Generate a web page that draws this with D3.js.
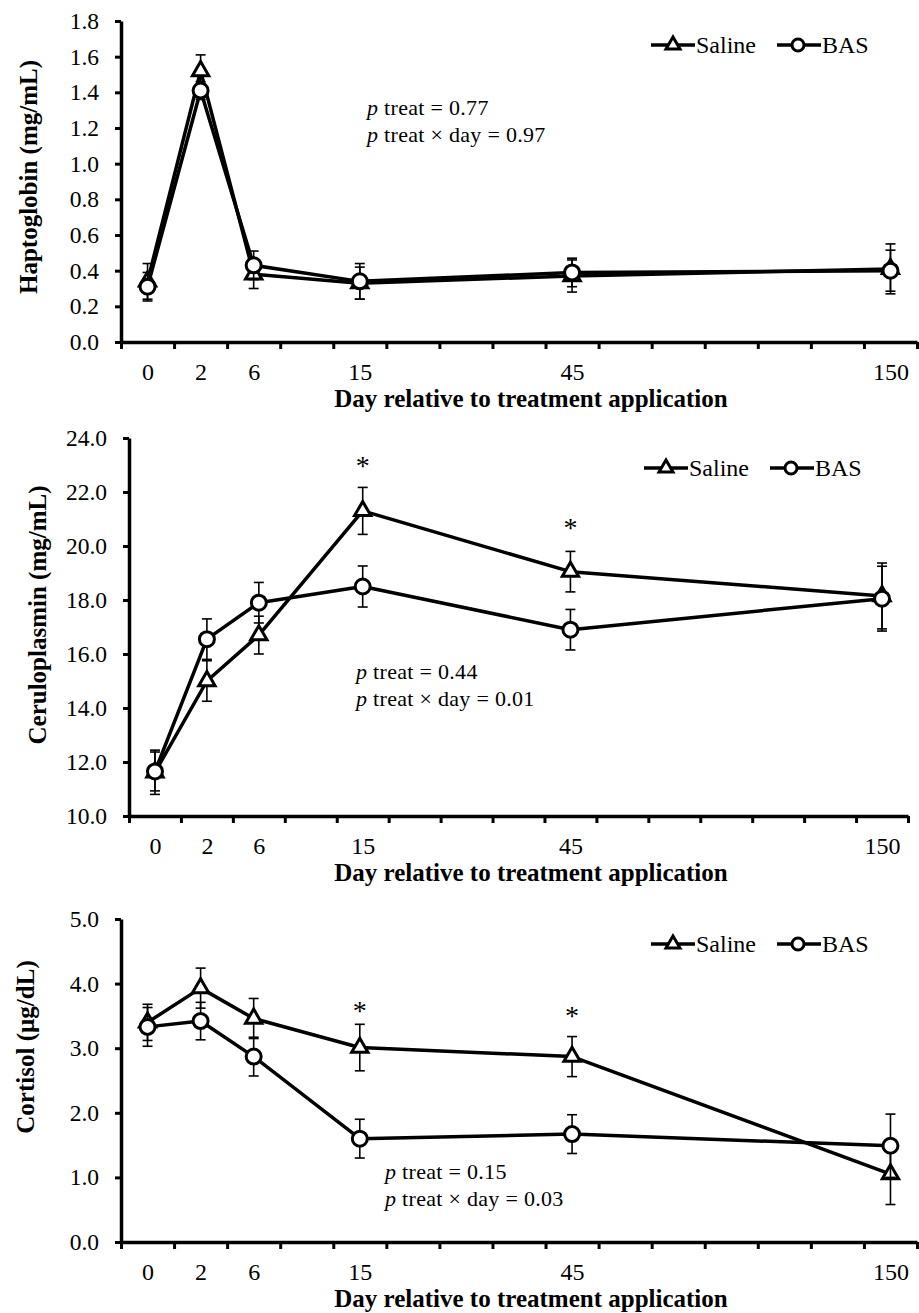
<!DOCTYPE html>
<html>
<head>
<meta charset="utf-8">
<script src="https://cdn.jsdelivr.net/npm/d3@7"></script>
<style>
  html, body { margin: 0; padding: 0; background: #fff; }
  svg { display: block; }
</style>
</head>
<body>
<svg id="chart" width="919" height="1313"></svg>
<script>
// ---------- DATA ----------
const days = ["0", "2", "6", "15", "45", "150"];
// category slot (centre) of each sampling day on the 15-slot x axis
const daySlots = [0.5, 1.5, 2.5, 4.5, 8.5, 14.5];
const slotTicks = d3.range(0, 16);
const seriesNames = ["Saline", "BAS"];

// Haptoglobin (mg/mL)
const hpSaline    = [0.34, 1.52, 0.38, 0.33, 0.37, 0.41];
const hpSalineErr = [0.10, 0.09, 0.08, 0.09, 0.09, 0.14];
const hpBAS       = [0.31, 1.41, 0.43, 0.34, 0.39, 0.40];
const hpBASErr    = [0.08, 0.05, 0.08, 0.10, 0.08, 0.115];
const hpTicks     = [0, 0.2, 0.4, 0.6, 0.8, 1.0, 1.2, 1.4, 1.6, 1.8];
const hpStats     = ["treat = 0.77", "treat \u00D7 day = 0.97"];
const hpStars     = [];

// Ceruloplasmin (mg/mL)
const cpSaline    = [11.62, 15.0, 16.7, 21.3, 19.05, 18.15];
const cpSalineErr = [0.82, 0.75, 0.70, 0.87, 0.75, 1.22];
const cpBAS       = [11.65, 16.55, 17.9, 18.5, 16.9, 18.05];
const cpBASErr    = [0.72, 0.75, 0.75, 0.76, 0.75, 1.20];
const cpTicks     = [10, 12, 14, 16, 18, 20, 22, 24];
const cpStats     = ["treat = 0.44", "treat \u00D7 day = 0.01"];
const cpStars     = [{ day: "15", value: 23.1 }, { day: "45", value: 20.8 }];

// Cortisol (µg/dL)
const coSaline    = [3.40, 3.93, 3.46, 3.01, 2.87, 1.05];
const coSalineErr = [0.28, 0.31, 0.31, 0.36, 0.31, 0.47];
const coBAS       = [3.33, 3.42, 2.87, 1.60, 1.67, 1.49];
const coBASErr    = [0.30, 0.29, 0.30, 0.30, 0.30, 0.49];
const coTicks     = [0, 1, 2, 3, 4, 5];
const coStats     = ["treat = 0.15", "treat \u00D7 day = 0.03"];
const coStars     = [{ day: "15", value: 3.64 }, { day: "45", value: 3.56 }];

const xTitle = "Day relative to treatment application";

// ---------- DRAWING ----------
const SERIF = '"Liberation Serif", "Times New Roman", Times, serif';
const svg = d3.select("#chart");
svg.append("rect").attr("width", 919).attr("height", 1313).attr("fill", "#fff");

const slotOf = d => daySlots[days.indexOf(d)];

function drawPanel(cfg) {
  const g = svg.append("g");
  const x = d3.scaleLinear().domain([0, 15]).range([cfg.left, cfg.right]);
  const y = d3.scaleLinear().domain([cfg.ticks[0], cfg.ticks[cfg.ticks.length - 1]])
              .range([cfg.bottom, cfg.top]);

  // y axis
  const yAxis = g.append("g").attr("transform", `translate(${cfg.left},0)`)
    .call(d3.axisLeft(y).tickValues(cfg.ticks).tickFormat(d3.format(".1f"))
      .tickSize(6).tickSizeOuter(0).tickPadding(16));
  yAxis.select(".domain").attr("stroke-width", 3.5);
  yAxis.selectAll(".tick line").attr("stroke-width", 3);
  yAxis.selectAll("text").style("font-size", "23.5px");

  // x axis with slot ticks
  const xAxis = g.append("g").attr("transform", `translate(0,${cfg.bottom})`)
    .call(d3.axisBottom(x).tickValues(slotTicks).tickFormat("").tickSize(7).tickSizeOuter(0));
  xAxis.select(".domain").attr("stroke-width", 3.5);
  xAxis.selectAll(".tick line").attr("stroke-width", 3);

  // x labels at slot centres
  const xLab = g.append("g").attr("transform", `translate(0,${cfg.bottom})`)
    .call(d3.axisBottom(x).tickValues(daySlots).tickFormat((d, i) => days[i])
      .tickSize(0).tickPadding(21));
  xLab.select(".domain").remove();
  xLab.selectAll("text").style("font-size", "24px");

  // axis titles
  g.append("text").attr("x", 531).attr("y", cfg.bottom + 65)
    .attr("text-anchor", "middle").style("font-weight", "bold").style("font-size", "25px")
    .text(xTitle);
  g.append("text")
    .attr("transform", `translate(${cfg.yTitleX},${cfg.yTitleY}) rotate(-90)`)
    .attr("text-anchor", "middle").style("font-weight", "bold").style("font-size", "25px")
    .text(cfg.yTitle);

  const series = [
    { name: seriesNames[0], vals: cfg.saline, errs: cfg.salineErr, sym: "tri" },
    { name: seriesNames[1], vals: cfg.bas, errs: cfg.basErr, sym: "circ" }
  ];
  const line = d3.line().x(d => x(d.slot)).y(d => y(d.v));
  const tri = d3.symbol(d3.symbolTriangle, 115)();

  series.forEach(s => {
    const pts = s.vals.map((v, i) => ({ slot: daySlots[i], v, e: s.errs[i] }));
    const sg = g.append("g");
    // error bars
    const eb = sg.selectAll(".eb").data(pts).join("g").attr("stroke", "#000").attr("stroke-width", 1.6);
    eb.append("line").attr("x1", d => x(d.slot)).attr("x2", d => x(d.slot))
      .attr("y1", d => y(d.v + d.e)).attr("y2", d => y(d.v - d.e));
    eb.append("line").attr("x1", d => x(d.slot) - 5).attr("x2", d => x(d.slot) + 5)
      .attr("y1", d => y(d.v + d.e)).attr("y2", d => y(d.v + d.e));
    eb.append("line").attr("x1", d => x(d.slot) - 5).attr("x2", d => x(d.slot) + 5)
      .attr("y1", d => y(d.v - d.e)).attr("y2", d => y(d.v - d.e));
    // line
    sg.append("path").datum(pts).attr("d", line).attr("fill", "none")
      .attr("stroke", "#000").attr("stroke-width", 3.5).attr("stroke-linejoin", "round");
    // markers
    if (s.sym === "circ") {
      sg.selectAll(".m").data(pts).join("circle")
        .attr("cx", d => x(d.slot)).attr("cy", d => y(d.v)).attr("r", 7.5)
        .attr("fill", "#fff").attr("stroke", "#000").attr("stroke-width", 3);
    } else {
      sg.selectAll(".m").data(pts).join("path").attr("d", tri)
        .attr("transform", d => `translate(${x(d.slot)},${y(d.v)})`)
        .attr("fill", "#fff").attr("stroke", "#000").attr("stroke-width", 3)
        .attr("stroke-linejoin", "miter");
    }
  });

  // significance stars
  g.selectAll(".star").data(cfg.stars).join("text")
    .attr("x", d => x(slotOf(d.day))).attr("y", d => y(d.value) + 13)
    .attr("text-anchor", "middle").style("font-size", "28px").text("*");

  // statistics text
  const st = g.append("g");
  cfg.stats.forEach((t, i) => {
    const tx = st.append("text").attr("x", cfg.statX).attr("y", cfg.statY + i * 26.5)
      .style("font-size", "22px").style("letter-spacing", "0.3px");
    tx.append("tspan").style("font-style", "italic").text("p");
    tx.append("tspan").text(" " + t);
  });

  // legend
  const lg = g.append("g").attr("transform", `translate(${cfg.legX},${cfg.legY})`);
  const items = [{ name: seriesNames[0], sym: "tri", dx: 0 }, { name: seriesNames[1], sym: "circ", dx: 126 }];
  items.forEach(it => {
    const ig = lg.append("g").attr("transform", `translate(${it.dx},0)`);
    ig.append("line").attr("x1", 0).attr("x2", 44).attr("y1", 0).attr("y2", 0)
      .attr("stroke", "#000").attr("stroke-width", 3.5);
    if (it.sym === "tri") {
      ig.append("path").attr("d", d3.symbol(d3.symbolTriangle, 85)())
        .attr("transform", "translate(22,0)")
        .attr("fill", "#fff").attr("stroke", "#000").attr("stroke-width", 3);
    } else {
      ig.append("circle").attr("cx", 21).attr("cy", 0).attr("r", 6)
        .attr("fill", "#fff").attr("stroke", "#000").attr("stroke-width", 3);
    }
    ig.append("text").attr("x", 45).attr("y", 8).style("font-size", "24px").text(it.name);
  });
}

drawPanel({
  top: 21, bottom: 342, left: 121, right: 917,
  ticks: hpTicks, saline: hpSaline, salineErr: hpSalineErr, bas: hpBAS, basErr: hpBASErr,
  yTitle: "Haptoglobin (mg/mL)", yTitleX: 37, yTitleY: 177,
  stars: hpStars, stats: hpStats, statX: 367, statY: 115,
  legX: 651, legY: 45
});
drawPanel({
  top: 438, bottom: 816, left: 129, right: 908,
  ticks: cpTicks, saline: cpSaline, salineErr: cpSalineErr, bas: cpBAS, basErr: cpBASErr,
  yTitle: "Ceruloplasmin (mg/mL)", yTitleX: 46, yTitleY: 615,
  stars: cpStars, stats: cpStats, statX: 356, statY: 679,
  legX: 644, legY: 468
});
drawPanel({
  top: 919, bottom: 1242, left: 121, right: 917,
  ticks: coTicks, saline: coSaline, salineErr: coSalineErr, bas: coBAS, basErr: coBASErr,
  yTitle: "Cortisol (\u00B5g/dL)", yTitleX: 34, yTitleY: 1047,
  stars: coStars, stats: coStats, statX: 385, statY: 1179,
  legX: 651, legY: 944
});

// force the serif face on every text element (overrides d3-axis sans-serif attribute)
svg.selectAll("text").style("font-family", SERIF).attr("fill", "#000");
</script>
</body>
</html>
